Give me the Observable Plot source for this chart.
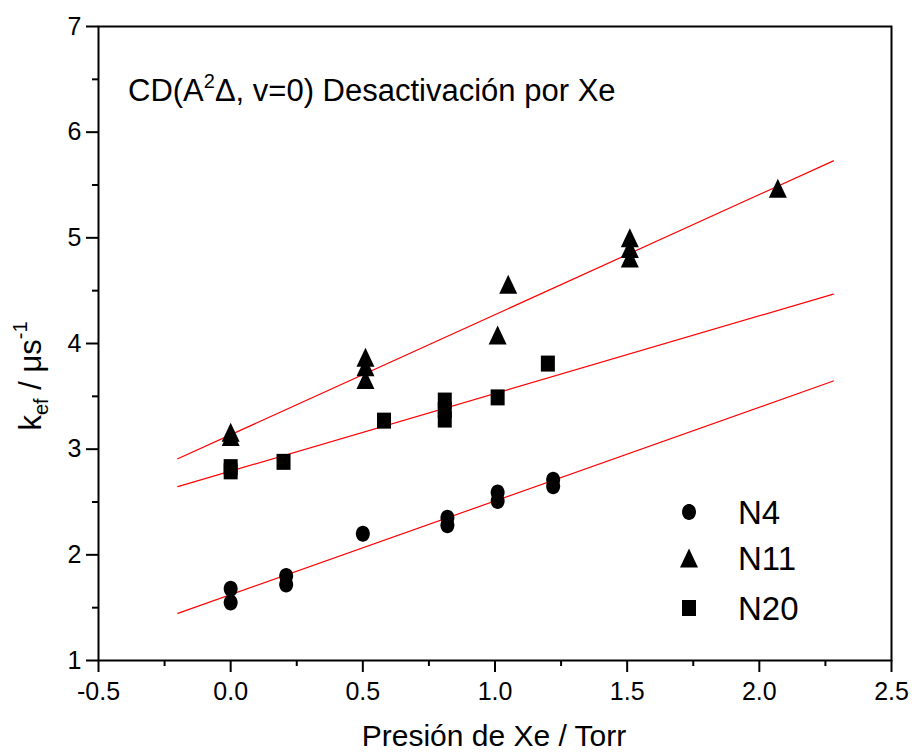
<!DOCTYPE html>
<html>
<head>
<meta charset="utf-8">
<script src="https://cdn.jsdelivr.net/npm/d3@7"></script>
<script src="https://cdn.jsdelivr.net/npm/@observablehq/plot@0.6"></script>
<style>
  body { margin: 0; background: #fff; }
  #chart svg { display: block; }
</style>
</head>
<body>
<div id="chart"></div>
<script>
// Effective decay rate of CD(A²Δ, v=0) vs. Xe pressure, three runs.
const seriesNames = ["N4", "N11", "N20"];

const n4Pressure = [0, 0, 0.21, 0.21, 0.50, 0.82, 0.82, 1.01, 1.01, 1.22, 1.22];
const n4Rate     = [1.68, 1.55, 1.80, 1.72, 2.20, 2.35, 2.28, 2.59, 2.51, 2.71, 2.65];

const n11Pressure = [0, 0, 0.51, 0.51, 0.51, 1.01, 1.05, 1.51, 1.51, 1.51, 2.07];
const n11Rate     = [3.16, 3.12, 3.87, 3.78, 3.66, 4.08, 4.56, 5.00, 4.90, 4.81, 5.47];

const n20Pressure = [0, 0, 0.20, 0.58, 0.81, 0.81, 0.81, 1.01, 1.20];
const n20Rate     = [2.83, 2.79, 2.88, 3.27, 3.46, 3.37, 3.28, 3.49, 3.81];

// Linear fits k = a + b·P, one per series (same order as seriesNames)
const fitIntercept = [1.623, 3.136, 2.792];
const fitSlope     = [0.887, 1.137, 0.735];
const fitRange     = [-0.2, 2.28];

const xTicks      = [-0.5, 0, 0.5, 1, 1.5, 2, 2.5];
const xMinorTicks = [-0.25, 0.25, 0.75, 1.25, 1.75, 2.25];
const yTicks      = [1, 2, 3, 4, 5, 6, 7];
const yMinorTicks = [1.5, 2.5, 3.5, 4.5, 5.5, 6.5];

const titleText  = "CD(A";
const titleSup   = "2";
const titleRest  = "Δ, v=0) Desactivación por Xe";
const xLabelText = "Presión de Xe / Torr";

// Marker shapes
const K = 0.5523;
const ellipseSymbol = {
  draw(ctx) {
    const rx = 7, ry = 8;
    ctx.moveTo(rx, 0);
    ctx.bezierCurveTo(rx, ry * K, rx * K, ry, 0, ry);
    ctx.bezierCurveTo(-rx * K, ry, -rx, ry * K, -rx, 0);
    ctx.bezierCurveTo(-rx, -ry * K, -rx * K, -ry, 0, -ry);
    ctx.bezierCurveTo(rx * K, -ry, rx, -ry * K, rx, 0);
    ctx.closePath();
  }
};
const triangleSymbol = {
  draw(ctx) {
    const hw = 9, hh = 9.5;
    ctx.moveTo(0, -hh);
    ctx.lineTo(hw, hh);
    ctx.lineTo(-hw, hh);
    ctx.closePath();
  }
};
const squareSymbol = {
  draw(ctx) {
    const hw = 7, hh = 8;
    ctx.moveTo(-hw, -hh);
    ctx.lineTo(hw, -hh);
    ctx.lineTo(hw, hh);
    ctx.lineTo(-hw, hh);
    ctx.closePath();
  }
};
const seriesSymbols = [ellipseSymbol, triangleSymbol, squareSymbol];

const toRows = (xs, ys) => xs.map((x, i) => ({x, y: ys[i]}));
const n4Rows  = toRows(n4Pressure, n4Rate);
const n11Rows = toRows(n11Pressure, n11Rate);
const n20Rows = toRows(n20Pressure, n20Rate);

const fitRows = seriesNames.flatMap((s, i) =>
  fitRange.map(x => ({series: s, x, y: fitIntercept[i] + fitSlope[i] * x})));

const plot = Plot.plot({
  width: 912,
  height: 755,
  marginLeft: 98,
  marginRight: 21,
  marginTop: 26,
  marginBottom: 95,
  style: {fontFamily: "'Liberation Sans', Arial, sans-serif", fontSize: "25px", background: "#fff", color: "#000"},
  x: {domain: [-0.5, 2.5]},
  y: {domain: [1, 7]},
  marks: [
    Plot.axisX({ticks: xTicks, tickSize: 12, tickPadding: 10, tickFormat: d => d.toFixed(1), label: null, strokeWidth: 2}),
    Plot.axisX({ticks: xMinorTicks, tickSize: 6, text: null, label: null, strokeWidth: 2}),
    Plot.axisY({ticks: yTicks, tickSize: 12, tickPadding: 5, tickFormat: d => String(d), label: null, strokeWidth: 2}),
    Plot.axisY({ticks: yMinorTicks, tickSize: 6, text: null, label: null, strokeWidth: 2}),
    Plot.line(fitRows, {x: "x", y: "y", z: "series", stroke: "#ff0000", strokeWidth: 1.2}),
    Plot.dot(n4Rows,  {x: "x", y: "y", symbol: ellipseSymbol, fill: "#000", stroke: "none"}),
    Plot.dot(n11Rows, {x: "x", y: "y", symbol: triangleSymbol, fill: "#000", stroke: "none"}),
    Plot.dot(n20Rows, {x: "x", y: "y", symbol: squareSymbol, fill: "#000", stroke: "none"}),
    Plot.frame({stroke: "#000", strokeWidth: 2})
  ]
});

const svg = d3.select(plot);
const font = "'Liberation Sans', Arial, sans-serif";

// Title inside the frame
const title = svg.append("text")
  .attr("x", 128).attr("y", 101)
  .attr("text-anchor", "start")
  .attr("font-size", 31).attr("font-family", font).attr("fill", "#000");
title.append("tspan").text(titleText);
title.append("tspan").attr("dy", -13).attr("font-size", 20).text(titleSup);
title.append("tspan").attr("dy", 13).text(titleRest);

// X axis label
svg.append("text")
  .attr("x", 494).attr("y", 746)
  .attr("text-anchor", "middle")
  .attr("font-size", 30).attr("font-family", font).attr("fill", "#000")
  .text(xLabelText);

// Y axis label: k_ef / µs^-1
const yl = svg.append("text")
  .attr("transform", "translate(41,376) rotate(-90)")
  .attr("text-anchor", "middle")
  .attr("font-size", 31).attr("font-family", font).attr("fill", "#000");
yl.append("tspan").text("k");
yl.append("tspan").attr("dy", 7).attr("font-size", 20).text("ef");
yl.append("tspan").attr("dy", -7).text(" / μs");
yl.append("tspan").attr("dy", -14).attr("font-size", 20).text("-1");

// Legend
const legendY = [512, 558, 608];
const legend = svg.append("g");
seriesNames.forEach((name, i) => {
  legend.append("path")
    .attr("transform", `translate(689,${legendY[i]})`)
    .attr("d", d3.symbol(seriesSymbols[i])())
    .attr("fill", "#000");
  legend.append("text")
    .attr("x", 738).attr("y", legendY[i] + 12)
    .attr("text-anchor", "start")
    .attr("font-size", 33).attr("font-family", font).attr("fill", "#000")
    .text(name);
});

document.getElementById("chart").appendChild(plot);
</script>
</body>
</html>
